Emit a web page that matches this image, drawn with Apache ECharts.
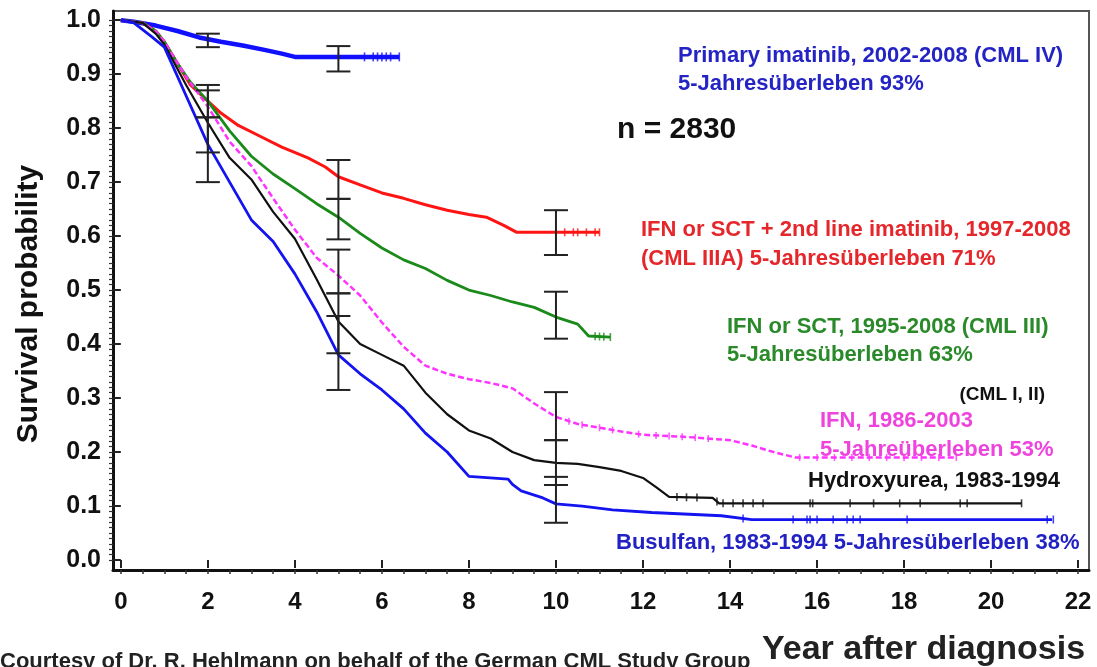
<!DOCTYPE html>
<html>
<head>
<meta charset="utf-8">
<title>CML Survival</title>
<script src="https://cdn.jsdelivr.net/npm/echarts@6/dist/echarts.min.js"></script>
<style>
  html, body { margin: 0; padding: 0; background: #fff; }
  #chart { width: 1097px; height: 667px; }
</style>
</head>
<body>
<div id="chart"></div>
<script>
// Kaplan-Meier survival estimates per treatment cohort: [years, probability]
const imatinibCML4 = [[0,1],[0.3,0.997],[0.8,0.99],[1.3,0.98],[1.8,0.968],[2.3,0.96],[2.8,0.953],[3.3,0.945],[3.7,0.938],[4.0,0.932],[5.0,0.932],[6.4,0.932]];
const ifnSctImatinib = [[0,1],[0.5,0.995],[0.8,0.98],[1.0,0.96],[1.3,0.92],[1.6,0.88],[2,0.85],[2.3,0.828],[2.7,0.805],[3.2,0.785],[3.7,0.765],[4.3,0.745],[4.7,0.728],[5.0,0.71],[5.5,0.695],[6.0,0.68],[6.5,0.67],[7.0,0.658],[7.5,0.648],[8.0,0.64],[8.4,0.635],[8.8,0.62],[9.1,0.607],[11.0,0.607]];
const ifnSct = [[0,1],[0.5,0.995],[0.8,0.98],[1.0,0.96],[1.3,0.92],[1.6,0.885],[2,0.85],[2.5,0.795],[3,0.748],[3.5,0.715],[4,0.688],[4.5,0.66],[5,0.635],[5.5,0.605],[6,0.578],[6.5,0.556],[7,0.54],[7.5,0.518],[8,0.5],[8.5,0.49],[9,0.478],[9.5,0.468],[10,0.45],[10.5,0.437],[10.75,0.415],[11.25,0.413]];
const ifn = [[0,1],[0.5,0.995],[0.8,0.98],[1.0,0.96],[1.5,0.895],[2,0.84],[2.5,0.775],[3,0.73],[3.5,0.67],[4,0.612],[4.5,0.56],[5,0.527],[5.5,0.49],[6,0.44],[6.5,0.395],[7,0.36],[7.5,0.345],[8,0.335],[8.5,0.328],[9,0.318],[9.5,0.29],[10,0.265],[10.5,0.252],[11,0.245],[11.5,0.238],[12,0.232],[13,0.228],[14,0.222],[14.5,0.212],[15,0.2],[15.5,0.19],[19.2,0.19]];
const hydroxyurea = [[0,1],[0.5,0.995],[0.8,0.975],[1.0,0.955],[1.5,0.88],[2,0.81],[2.5,0.745],[3,0.705],[3.5,0.645],[4,0.595],[4.5,0.52],[5,0.442],[5.5,0.4],[6,0.38],[6.5,0.36],[7,0.31],[7.5,0.27],[8,0.24],[8.5,0.225],[9,0.2],[9.5,0.185],[10,0.18],[10.5,0.178],[11,0.172],[11.5,0.165],[12,0.152],[12.3,0.135],[12.6,0.117],[13.6,0.115],[13.75,0.105],[20.7,0.105]];
const busulfan = [[0,1],[0.3,0.995],[0.7,0.97],[1.0,0.95],[1.5,0.86],[2,0.77],[2.5,0.7],[3,0.63],[3.5,0.59],[4,0.53],[4.5,0.46],[5,0.38],[5.5,0.345],[6,0.315],[6.5,0.28],[7,0.235],[7.5,0.2],[8,0.155],[8.9,0.15],[9.0,0.14],[9.2,0.128],[9.7,0.115],[10,0.104],[10.6,0.1],[11.3,0.093],[12.2,0.088],[13.8,0.082],[14.5,0.075],[21.4,0.075]];

// Censored observations (years)
const imatinibCensored = [5.6, 5.8, 5.9, 6.0, 6.1, 6.2, 6.4];
const ifnSctImatinibCensored = [10.2, 10.4, 10.5, 10.7, 10.9, 11.0];
const ifnSctCensored = [10.9, 11.0, 11.1, 11.25];
const ifnCensored = [10.3, 10.6, 11.0, 11.3, 11.9, 12.3, 12.6, 12.9, 13.2, 13.5, 15.6, 16.0, 16.4, 16.8, 17.2, 17.6, 18.0, 18.4, 18.8, 19.2];
const hydroxyureaCensored = [12.78, 13.0, 13.24, 13.7, 13.84, 14.07, 14.3, 14.53, 14.76, 15.84, 15.9, 16.76, 17.3, 17.9, 18.37, 19.29, 19.45, 20.7];
const busulfanCensored = [14.3, 15.45, 15.77, 15.84, 16.0, 16.37, 16.69, 16.83, 16.99, 18.07, 21.29, 21.43];

// Confidence intervals: [years, lower, upper]
const confidenceBars = [
  [2, 0.95, 0.975], [2, 0.82, 0.88], [2, 0.755, 0.87], [2, 0.70, 0.82],
  [5, 0.905, 0.952], [5, 0.669, 0.741], [5, 0.594, 0.669], [5, 0.494, 0.575], [5, 0.383, 0.494], [5, 0.315, 0.452],
  [10, 0.565, 0.648], [10, 0.41, 0.497], [10, 0.222, 0.311], [10, 0.139, 0.222], [10, 0.069, 0.154]
];

// Axis tick values
const xLabelValues = [0, 2, 4, 6, 8, 10, 12, 14, 16, 18, 20, 22];
const yLabelValues = [0, 0.1, 0.2, 0.3, 0.4, 0.5, 0.6, 0.7, 0.8, 0.9, 1.0];
const xMinorTicks = [];
for (let i = 0; i <= 44; i++) xMinorTicks.push(i / 2);
const yMinorTicks = [];
for (let i = 0; i <= 100; i++) yMinorTicks.push(i / 100);

const FONT = "'Liberation Sans', Arial, Helvetica, sans-serif";

// probability of a curve at a given time (piecewise along the plotted curve)
function survivalAt(curve, t) {
  for (let i = 1; i < curve.length; i++) {
    if (t <= curve[i][0]) {
      const a = curve[i - 1], b = curve[i];
      const f = (t - a[0]) / (b[0] - a[0] || 1);
      return a[1] + f * (b[1] - a[1]);
    }
  }
  return curve[curve.length - 1][1];
}
function censorPoints(curve, times) {
  return times.map(t => [t, survivalAt(curve, t)]);
}

function curveSeries(name, data, color, width, type) {
  return {
    name: name, type: 'line', data: data, showSymbol: false, symbol: 'none',
    lineStyle: { color: color, width: width, type: type || 'solid' },
    z: 3, silent: true
  };
}
function censorSeries(curve, times, color, h) {
  return {
    type: 'scatter', data: censorPoints(curve, times), symbol: 'rect',
    symbolSize: [1.6, h || 8], itemStyle: { color: color },
    z: 4, silent: true
  };
}

function textEl(x, y, text, color, size, opts) {
  opts = opts || {};
  return {
    type: 'text', x: x, y: y, z: 100, rotation: opts.rotation || 0,
    style: {
      text: text, fill: color,
      font: (opts.weight || 'bold') + ' ' + size + 'px ' + FONT,
      textAlign: opts.align || 'left', textVerticalAlign: 'middle'
    }
  };
}

const chart = echarts.init(document.getElementById('chart'), null, { renderer: 'canvas' });

chart.setOption({
  animation: false,
  backgroundColor: '#ffffff',
  grid: {
    left: 113, right: 8, top: 11, bottom: 97, show: true, borderColor: '#555', borderWidth: 2,
    containLabel: false, outerBoundsMode: 'none'
  },
  xAxis: [
    {
      type: 'value', min: -0.18, max: 22.25, position: 'bottom',
      axisLine: { onZero: false, lineStyle: { color: '#111', width: 3 } },
      axisTick: { customValues: xMinorTicks, length: 4, lineStyle: { color: '#333', width: 1.5 } },
      axisLabel: { customValues: xLabelValues, fontSize: 24, fontWeight: 'bold', color: '#111', margin: 20, fontFamily: FONT },
      splitLine: { show: false }
    },
    {
      type: 'value', min: -0.18, max: 22.25, position: 'bottom',
      axisLine: { show: false },
      axisTick: { customValues: xLabelValues, length: 8, lineStyle: { color: '#222', width: 2 } },
      axisLabel: { show: false },
      splitLine: { show: false }
    }
  ],
  yAxis: [
    {
      type: 'value', min: -0.0185, max: 1.017, position: 'left',
      axisLine: { onZero: false, lineStyle: { color: '#111', width: 3 } },
      axisTick: { customValues: yMinorTicks, length: 4, lineStyle: { color: '#333', width: 1.2 } },
      axisLabel: {
        customValues: yLabelValues, fontSize: 25, fontWeight: 'bold', color: '#111', margin: 12, fontFamily: FONT,
        formatter: v => v.toFixed(1)
      },
      splitLine: { show: false }
    },
    {
      type: 'value', min: -0.0185, max: 1.017, position: 'left',
      axisLine: { show: false },
      axisTick: { customValues: yLabelValues, length: 8, lineStyle: { color: '#222', width: 2 } },
      axisLabel: { show: false },
      splitLine: { show: false }
    }
  ],
  series: [
    curveSeries('Primary imatinib, 2002-2008 (CML IV)', imatinibCML4, '#1010ff', 4.5),
    curveSeries('IFN or SCT + 2nd line imatinib, 1997-2008 (CML IIIA)', ifnSctImatinib, '#ff1414', 3),
    curveSeries('IFN or SCT, 1995-2008 (CML III)', ifnSct, '#1a8a1a', 2.8),
    curveSeries('IFN, 1986-2003', ifn, '#ff33ff', 2.5, [6, 3]),
    curveSeries('Hydroxyurea, 1983-1994', hydroxyurea, '#111111', 2.2),
    curveSeries('Busulfan, 1983-1994', busulfan, '#1414f0', 2.8),
    censorSeries(imatinibCML4, imatinibCensored, '#1010ff', 9),
    censorSeries(ifnSctImatinib, ifnSctImatinibCensored, '#ff1414', 8),
    censorSeries(ifnSct, ifnSctCensored, '#1a8a1a', 8),
    censorSeries(ifn, ifnCensored, '#ff33ff', 7),
    censorSeries(hydroxyurea, hydroxyureaCensored, '#111111', 8),
    censorSeries(busulfan, busulfanCensored, '#1414f0', 8),
    {
      type: 'custom', data: confidenceBars, z: 10, silent: true,
      renderItem: function (params, api) {
        const x = api.value(0);
        const lo = api.coord([x, api.value(1)]);
        const hi = api.coord([x, api.value(2)]);
        const hw = 12;
        const style = { stroke: '#222', lineWidth: 2 };
        return {
          type: 'group',
          children: [
            { type: 'line', shape: { x1: lo[0], y1: lo[1], x2: hi[0], y2: hi[1] }, style: style },
            { type: 'line', shape: { x1: lo[0] - hw, y1: lo[1], x2: lo[0] + hw, y2: lo[1] }, style: style },
            { type: 'line', shape: { x1: hi[0] - hw, y1: hi[1], x2: hi[0] + hw, y2: hi[1] }, style: style }
          ]
        };
      }
    }
  ],
  graphic: [
    textEl(29, 304, 'Survival probability', '#111', 30, { align: 'center', rotation: Math.PI / 2 }),
    textEl(678, 56, 'Primary imatinib, 2002-2008 (CML IV)', '#2424c4', 22),
    textEl(678, 84, '5-Jahresüberleben 93%', '#2424c4', 22),
    textEl(617, 130, 'n = 2830', '#111', 30),
    textEl(641, 230, 'IFN or SCT + 2nd line imatinib, 1997-2008', '#e5262a', 22),
    textEl(641, 259, '(CML IIIA) 5-Jahresüberleben 71%', '#e5262a', 22),
    textEl(727, 327, 'IFN or SCT, 1995-2008 (CML III)', '#2a8a2a', 22),
    textEl(727, 355, '5-Jahresüberleben 63%', '#2a8a2a', 22),
    textEl(1045, 395, '(CML I, II)', '#111', 19, { align: 'right' }),
    textEl(820, 421, 'IFN, 1986-2003', '#ee44dd', 22),
    textEl(820, 450, '5-Jahreüberleben 53%', '#ee44dd', 22),
    textEl(808, 481, 'Hydroxyurea, 1983-1994', '#111', 22),
    textEl(616, 543, 'Busulfan, 1983-1994 5-Jahresüberleben 38%', '#2222c4', 22),
    textEl(762, 650, 'Year after diagnosis', '#222', 34),
    textEl(0, 662, 'Courtesy of Dr. R. Hehlmann on behalf of the German CML Study Group', '#222', 22)
  ]
});
</script>
</body>
</html>
